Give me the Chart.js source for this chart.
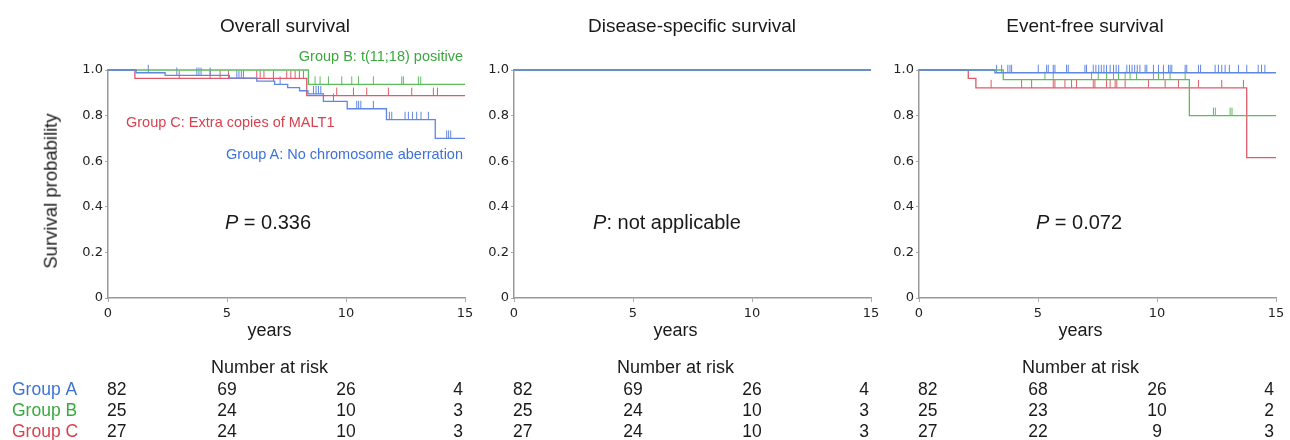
<!DOCTYPE html>
<html><head><meta charset="utf-8">
<script src="https://cdn.jsdelivr.net/npm/chart.js@4.4.1/dist/chart.umd.min.js"></script>
<style>
html,body{margin:0;padding:0;background:#fff;}
#wrap{position:relative;width:1290px;height:440px;overflow:hidden;font-family:"Liberation Sans",Arial,sans-serif;color:#1a1a1a;}
canvas{position:absolute;top:0;}
.t{position:absolute;white-space:nowrap;line-height:1;transform:translate(-50%,-50%);}
.r{position:absolute;white-space:nowrap;line-height:1;transform:translate(-100%,-50%);}
.l{position:absolute;white-space:nowrap;line-height:1;transform:translate(0,-50%);}
</style></head><body>
<div id="wrap">
<canvas id="c1" width="480" height="440" style="left:0px"></canvas>
<canvas id="c2" width="450" height="440" style="left:440px"></canvas>
<canvas id="c3" width="440" height="440" style="left:850px"></canvas>
<div id="overlay"></div>
</div>
<script>
// ---------------- DATA ----------------
const groupNames = ['Group A', 'Group B', 'Group C'];
const panelTitles = ['Overall survival', 'Disease-specific survival', 'Event-free survival'];
const xTicks = [0, 5, 10, 15];
const yTicks = [0, 0.2, 0.4, 0.6, 0.8, 1.0];

// Overall survival
const osA_t = [0, 1.18, 2.4, 5.1, 6.25, 7.0, 7.55, 8.05, 8.4, 9.05, 10.05, 11.7, 13.75, 15];
const osA_s = [1, 0.988, 0.976, 0.964, 0.951, 0.937, 0.923, 0.909, 0.895, 0.862, 0.83, 0.782, 0.70, 0.70];
const osA_cens = [1.69, 2.89, 3.73, 3.82, 3.91, 4.29, 5.41, 5.50, 5.60, 5.69, 6.95, 7.23, 8.63, 8.74, 8.84, 8.94, 9.47, 10.45, 10.53, 10.62, 11.15, 11.82, 11.92, 12.48, 12.62, 12.79, 12.97, 13.15, 13.46, 14.23, 14.31, 14.40];
const osB_t = [0, 8.42, 15];
const osB_s = [1, 0.937, 0.937];
const osB_cens = [8.70, 8.91, 9.26, 9.82, 10.24, 10.52, 11.15, 12.34, 12.41, 13.04, 13.14];
const osC_t = [0, 1.13, 8.35, 15];
const osC_s = [1, 0.963, 0.888, 0.888];
const osC_cens = [2.99, 4.29, 4.71, 5.06, 6.25, 6.39, 6.55, 6.95, 7.51, 7.68, 7.86, 8.04, 8.21, 9.61, 10.31, 10.87, 11.78, 12.76, 13.67, 13.84];

// Disease-specific survival
const dssA_t = [0, 15];
const dssA_s = [1, 1];
const dssB_t = [0, 15];
const dssB_s = [1, 1];
const dssC_t = [0, 15];
const dssC_s = [1, 1];

// Event-free survival
const efsA_t = [0, 3.19, 15];
const efsA_s = [1, 0.988, 0.988];
const efsA_cens = [3.26, 3.47, 3.73, 3.82, 3.89, 5.01, 5.36, 5.43, 5.64, 5.71, 6.20, 6.27, 6.97, 7.04, 7.32, 7.43, 7.55, 7.66, 7.77, 7.88, 8.03, 8.17, 8.28, 8.39, 8.73, 8.84, 8.95, 9.06, 9.17, 9.28, 9.50, 9.57, 9.85, 10.06, 10.27, 10.48, 10.55, 10.62, 11.18, 11.25, 11.74, 11.83, 12.44, 12.58, 12.72, 12.86, 13.04, 13.42, 13.77, 14.25, 14.39, 14.53];
const efsB_t = [0, 3.54, 11.36, 15];
const efsB_s = [1, 0.958, 0.80, 0.80];
const efsB_cens = [5.29, 5.64, 7.25, 7.53, 7.88, 8.17, 8.38, 8.66, 8.87, 9.14, 9.85, 10.06, 10.27, 10.55, 11.18, 12.37, 12.45, 13.07, 13.15];
const efsC_t = [0, 2.07, 2.39, 13.77, 15];
const efsC_s = [1, 0.963, 0.922, 0.616, 0.616];
const efsC_cens = [3.03, 4.31, 4.73, 5.64, 5.71, 6.13, 6.41, 6.62, 7.32, 7.39, 7.88, 8.03, 8.24, 8.31, 8.66, 9.64, 10.34, 10.90, 11.74, 12.72, 13.63];

// Numbers at risk (at 0, 5, 10, 15 years)
const osRiskA = [82, 69, 26, 4];
const osRiskB = [25, 24, 10, 3];
const osRiskC = [27, 24, 10, 3];
const dssRiskA = [82, 69, 26, 4];
const dssRiskB = [25, 24, 10, 3];
const dssRiskC = [27, 24, 10, 3];
const efsRiskA = [82, 68, 26, 4];
const efsRiskB = [25, 23, 10, 2];
const efsRiskC = [27, 22, 9, 3];

const pTexts = ['<i>P</i> = 0.336', '<i>P</i>: not applicable', '<i>P</i> = 0.072'];

// ---------------- STYLE ----------------
const lineCol = ['#5f86e2', '#5cbd5c', '#e05a69'];
const textCol = ['#3d72d8', '#3aa83e', '#d8414f'];
const FONT = '"Liberation Sans", Arial, sans-serif';

function levelAt(ts, ss, t) {
  let v = ss[0];
  for (let i = 0; i < ts.length; i++) if (ts[i] <= t) v = ss[i];
  return v;
}
function tickImg(color) {
  const c = document.createElement('canvas');
  c.width = 3; c.height = 18;
  const g = c.getContext('2d');
  g.fillStyle = color;
  g.fillRect(1, 1, 1, 8);
  return c;
}

const panels = [
  { id: 'c1', left: 0, width: 480, areaL: 108, areaR: 465, curves: [[osA_t, osA_s, osA_cens], [osB_t, osB_s, osB_cens], [osC_t, osC_s, osC_cens]], risk: [osRiskA, osRiskB, osRiskC], groups: true },
  { id: 'c2', left: 440, width: 450, areaL: 514, areaR: 871, curves: [[dssA_t, dssA_s, null], [dssB_t, dssB_s, null], [dssC_t, dssC_s, null]], risk: [dssRiskA, dssRiskB, dssRiskC], groups: false },
  { id: 'c3', left: 850, width: 440, areaL: 919, areaR: 1276, curves: [[efsA_t, efsA_s, efsA_cens], [efsB_t, efsB_s, efsB_cens], [efsC_t, efsC_s, efsC_cens]], risk: [efsRiskA, efsRiskB, efsRiskC], groups: false }
];
const AREA_TOP = 70, AREA_BOTTOM = 298, YAXIS_W = 40, XAXIS_H = 30, H = 440;

const riskPlugin = {
  id: 'riskTable',
  afterDraw(chart, args, opts) {
    const ctx = chart.ctx, xs = chart.scales.x;
    const cx = (xs.left + xs.right) / 2 - 17;
    ctx.save();
    ctx.fillStyle = '#1a1a1a';
    ctx.textBaseline = 'middle';
    ctx.font = '18px ' + FONT;
    ctx.textAlign = 'center';
    ctx.fillText('years', cx, 331);
    ctx.fillText('Number at risk', cx, 368);
    ctx.font = '17.5px ' + FONT;
    const rowsY = [390, 411, 432];
    opts.risk.forEach((row, r) => {
      row.forEach((n, i) => {
        const px = xs.getPixelForValue(xTicks[i]);
        if (i === 0) { ctx.textAlign = 'left'; ctx.fillText(String(n), px - 1, rowsY[r]); }
        else if (i === row.length - 1) { ctx.textAlign = 'right'; ctx.fillText(String(n), px - 2, rowsY[r]); }
        else { ctx.textAlign = 'center'; ctx.fillText(String(n), px, rowsY[r]); }
      });
      if (opts.groups) {
        ctx.textAlign = 'left';
        ctx.fillStyle = textCol[r];
        ctx.fillText(groupNames[r], 12, rowsY[r]);
        ctx.fillStyle = '#1a1a1a';
      }
    });
    ctx.restore();
  }
};

panels.forEach((p, pi) => {
  const datasets = [];
  p.curves.forEach((cv, gi) => {
    datasets.push({
      data: cv[0].map((t, i) => ({ x: t, y: cv[1][i] })),
      showLine: true, stepped: true, borderColor: lineCol[gi], borderWidth: 1.3,
      pointRadius: 0, fill: false, clip: 3
    });
  });
  p.curves.forEach((cv, gi) => {
    if (cv[2]) datasets.push({
      data: cv[2].map(t => ({ x: t, y: levelAt(cv[0], cv[1], t) })),
      showLine: false, pointStyle: tickImg(lineCol[gi]), pointRadius: 3, clip: false
    });
  });
  new Chart(document.getElementById(p.id), {
    type: 'scatter',
    data: { datasets },
    plugins: [riskPlugin],
    options: {
      responsive: false, animation: false, events: [],
      layout: { padding: { left: p.areaL - p.left - YAXIS_W, right: p.left + p.width - p.areaR, top: AREA_TOP, bottom: H - AREA_BOTTOM - XAXIS_H } },
      plugins: { legend: { display: false }, tooltip: { enabled: false }, riskTable: { risk: p.risk, groups: p.groups } },
      scales: {
        x: {
          type: 'linear', min: 0, max: 15,
          afterBuildTicks: s => { s.ticks = xTicks.map(v => ({ value: v })); },
          afterFit: s => { s.height = XAXIS_H; },
          ticks: { font: { family: 'DejaVu Sans', size: 13 }, color: '#222', padding: 4, autoSkip: false, maxRotation: 0, callback: v => String(v) },
          grid: { drawOnChartArea: false, tickLength: 4, tickColor: '#aaa' },
          border: { color: '#999', width: 1.5 }
        },
        y: {
          type: 'linear', min: 0, max: 1,
          afterBuildTicks: s => { s.ticks = yTicks.map(v => ({ value: v })); },
          afterFit: s => { s.width = YAXIS_W; },
          ticks: { font: { family: 'DejaVu Sans', size: 13 }, color: '#222', padding: 2, callback: v => v === 0 ? '0' : v.toFixed(1) },
          grid: { drawOnChartArea: false, tickLength: 3, tickColor: '#aaa' },
          border: { color: '#999', width: 1.5 }
        }
      }
    }
  });
});

// ---------------- TEXT OVERLAYS ----------------
const ov = document.getElementById('overlay');
function addText(cls, html, x, y, size, color, extra) {
  const d = document.createElement('div');
  d.className = cls;
  d.innerHTML = html;
  d.style.left = x + 'px'; d.style.top = y + 'px';
  d.style.fontSize = size + 'px';
  d.style.color = color || '#1a1a1a';
  if (extra) Object.assign(d.style, extra);
  ov.appendChild(d);
}
const titleX = [285, 692, 1085];
panelTitles.forEach((t, i) => addText('t', t, titleX[i], 25, 19));
const pX = [268, 667, 1079];
pTexts.forEach((t, i) => addText('t', t, pX[i], 222, 20));
addText('t', 'Survival probability', 51, 191, 18.5, '#1a1a1a', { transform: 'translate(-50%,-50%) rotate(-90deg)' });
addText('r', 'Group B: t(11;18) positive', 463, 56, 14.5, textCol[1]);
addText('l', 'Group C: Extra copies of MALT1', 126, 122, 14.5, textCol[2]);
addText('r', 'Group A: No chromosome aberration', 463, 154, 14.5, textCol[0]);
</script>
</body></html>
